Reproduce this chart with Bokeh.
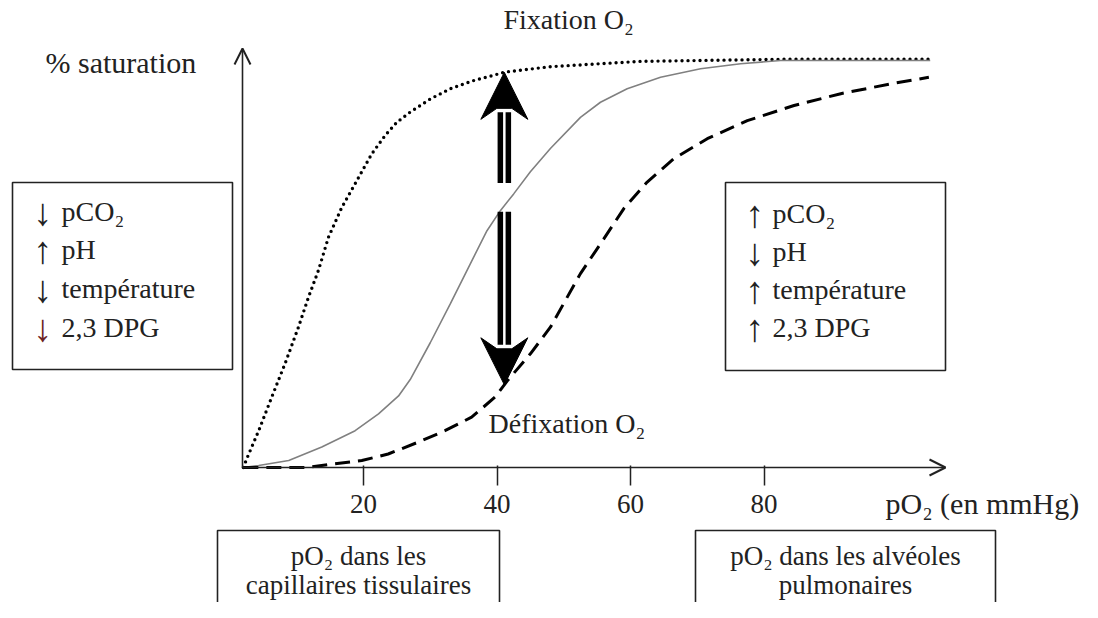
import numpy as np
from bokeh.plotting import figure
from bokeh.models import Range1d, Arrow, OpenHead, FixedTicker
from bokeh.core.properties import value
from bokeh.embed import file_html
from bokeh.resources import INLINE

# ---------------- data ----------------
# Left-shifted curve (dotted): higher affinity
po2_left = [2, 2.5, 4.3, 6.25, 8.25, 10.25, 11.75, 13.25, 14.75, 16.75, 18.75, 21.25, 23.25, 25.0,
            27.0, 30.0, 33.0, 36.5, 41.3, 48.0, 61.5, 82.5, 104.9]
sat_left = [0, 2.1, 9.0, 17.2, 25.4, 34.3, 41.6, 48.2, 56.3, 63.6, 69.4, 76.7, 81.2, 84.4,
            86.9, 90.1, 92.6, 94.6, 96.7, 98.0, 99.3, 99.8, 99.8]
# Normal curve (solid grey)
po2_normal = [2, 4.3, 8.8, 13.75, 18.75, 22.25, 25.25, 27.0, 30.0, 33.0, 36.0, 38.5, 40.5, 42.5,
              45.0, 48.0, 52.5, 55.5, 59.5, 64.5, 70.5, 76.5, 82.5, 104.9]
sat_normal = [0, 0.5, 1.7, 5.0, 9.0, 13.1, 17.5, 21.5, 30.5, 40.0, 49.8, 57.9, 62.8, 66.9,
              72.3, 78.0, 85.6, 89.3, 92.6, 95.4, 97.5, 98.7, 99.5, 99.5]
# Right-shifted curve (dashed): lower affinity
po2_right = [2, 11.3, 19.75, 23.7, 28.2, 32.2, 36.2, 39.7, 41.6, 45.0, 48.0, 52.5, 56.0, 59.0,
             62.5, 66.5, 71.5, 77.5, 84.5, 91.5, 99.0, 104.7]
sat_right = [0, 0, 1.7, 3.3, 6.2, 9.0, 12.3, 17.2, 21.3, 27.8, 34.3, 47.4, 55.9, 63.3,
             69.8, 75.5, 80.4, 84.8, 88.5, 91.4, 93.8, 95.4]

tick_values = [20, 40, 60, 80]
factors = ["pCO₂", "pH", "température", "2,3 DPG"]
left_dirs = ["↓", "↑", "↓", "↓"]
right_dirs = ["↑", "↓", "↑", "↑"]
left_dir_colors = ["#222222", "#222222", "#222222", "#6b2222"]
right_dir_colors = ["#222222", "#222222", "#222222", "#222222"]
arrow_po2 = 41.1

# ---------------- layout ----------------
W, H = 1082, 602
PX_X, PX_Y = 6.675, 4.09
def X(px):
    return 20 + (px - 363) / PX_X
def Y(py):
    return (467 - py) / PX_Y

FONT = value("Liberation Serif")
INK = "#222222"

p = figure(width=W, height=H, x_range=Range1d(X(0), X(W)), y_range=Range1d(Y(H), Y(0)),
           output_backend="svg", toolbar_location=None, min_border=0, outline_line_color=None)
p.grid.visible = False
p.yaxis.visible = False
p.xaxis.fixed_location = 0
p.xaxis.ticker = FixedTicker(ticks=tick_values)
p.xaxis.axis_line_color = None
p.xaxis.major_tick_in = 2
p.xaxis.major_tick_out = 18
p.xaxis.minor_tick_line_color = None
p.xaxis.major_tick_line_color = INK
p.xaxis.major_tick_line_width = 1.5
p.xaxis.major_label_text_font = "Liberation Serif"
p.xaxis.major_label_text_font_size = "27px"
p.xaxis.major_label_text_color = INK
p.xaxis.major_label_standoff = 9

# boxes
p.quad(left=[X(12), X(725), X(217), X(695)], right=[X(232), X(945), X(499), X(995)],
       top=[Y(182), Y(182), Y(530), Y(530)], bottom=[Y(369), Y(370), Y(640), Y(640)],
       fill_color="white", line_color=INK, line_width=1.6)

# curves
p.line(po2_left, sat_left, line_color="black", line_width=3.4, line_dash="0 6", line_cap="round")
p.line(po2_normal, sat_normal, line_color="#808080", line_width=1.6)
p.line(po2_right, sat_right, line_color="black", line_width=3, line_dash="15 8")

# axes arrows
ox = X(242)
p.add_layout(Arrow(end=OpenHead(size=16, line_width=2, line_color=INK), x_start=ox, y_start=0,
                   x_end=X(945), y_end=0, line_width=1.6, line_color=INK))
p.add_layout(Arrow(end=OpenHead(size=16, line_width=2, line_color=INK), x_start=ox, y_start=0,
                   x_end=ox, y_end=Y(48), line_width=1.6, line_color=INK))

# double arrows (fixation / défixation)
tip_up = float(np.interp(arrow_po2, po2_left, sat_left))
tip_down = float(np.interp(arrow_po2, po2_right, sat_right))
mid = float(np.interp(arrow_po2, po2_normal, sat_normal))
up_lo = mid + 5.5
dn_hi = mid - 1.5
dx = 4.0 / PX_X
p.segment(x0=[arrow_po2 - dx, arrow_po2 + dx, arrow_po2 - dx, arrow_po2 + dx],
          x1=[arrow_po2 - dx, arrow_po2 + dx, arrow_po2 - dx, arrow_po2 + dx],
          y0=[up_lo, up_lo, dn_hi, dn_hi],
          y1=[tip_up - 40 / PX_Y] * 2 + [tip_down + 40 / PX_Y] * 2,
          line_color="black", line_width=5.5)

def head(tx, ty, d):
    pts = [(0, 0), (23.5, -47), (7.5, -36), (-7.5, -36), (-23.5, -47)]
    return [tx + a / PX_X for a, b in pts], [ty + d * b / PX_Y for a, b in pts]

hx1, hy1 = head(arrow_po2, tip_up, 1)
hx2, hy2 = head(arrow_po2, tip_down, -1)
p.patches(xs=[hx1, hx2], ys=[hy1, hy2], fill_color="black", line_color="black", line_width=1)

# labels
p.text(x=[X(503), X(488)], y=[Y(19), Y(423)], text=["Fixation O₂", "Défixation O₂"],
       text_font=FONT, text_font_size="28px", text_color=INK, text_baseline="middle", text_align="left")
p.text(x=[X(45), X(885)], y=[Y(62), Y(503)], text=["% saturation", "pO₂ (en mmHg)"],
       text_font=FONT, text_font_size="30px", text_color=INK, text_baseline="middle", text_align="left")

left_y = [Y(211), Y(249), Y(288), Y(327)]
right_y = [Y(213), Y(251), Y(289), Y(327)]
p.text(x=[X(42)] * 4, y=left_y, text=left_dirs, text_color=left_dir_colors, text_font=FONT,
       text_font_size="38px", text_baseline="middle", text_align="center")
p.text(x=[X(61)] * 4, y=left_y, text=factors, text_font=FONT, text_font_size="28px",
       text_color=INK, text_baseline="middle", text_align="left")
p.text(x=[X(754)] * 4, y=right_y, text=right_dirs, text_color=right_dir_colors, text_font=FONT,
       text_font_size="38px", text_baseline="middle", text_align="center")
p.text(x=[X(772)] * 4, y=right_y, text=factors, text_font=FONT, text_font_size="28px",
       text_color=INK, text_baseline="middle", text_align="left")

p.text(x=[X(358), X(358), X(845), X(845)], y=[Y(555), Y(584), Y(555), Y(584)],
       text=["pO₂ dans les", "capillaires tissulaires", "pO₂ dans les alvéoles", "pulmonaires"],
       text_font=FONT, text_font_size="27px", text_color=INK, text_baseline="middle", text_align="center")

open("out.html", "w").write(file_html(p, INLINE))
